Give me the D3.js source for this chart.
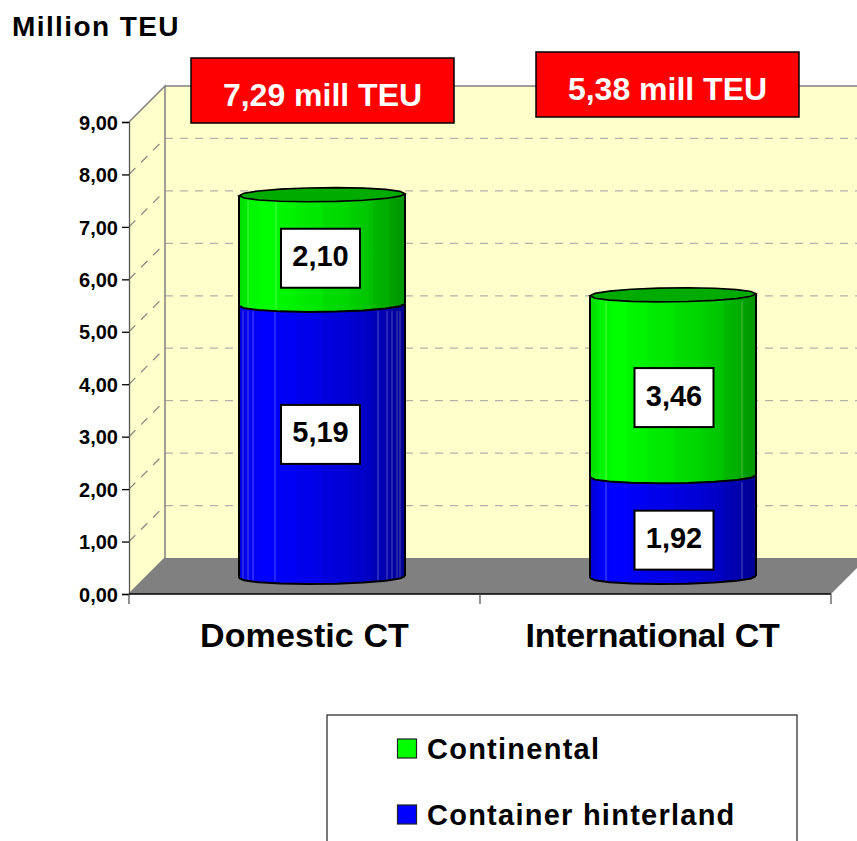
<!DOCTYPE html>
<html>
	<head>
		<meta charset="UTF-8">
		<title>Million TEU</title>
		<style>
			body{margin:0;background:#fff;}
			text{font-family:"Liberation Sans",Arial,sans-serif;font-weight:bold;fill:#000;}
		</style>
	</head>
	<body>
		<script src="https://cdn.jsdelivr.net/npm/d3@7"></script>
		<script>
			var categories = ["Domestic CT","International CT"];
			var seriesNames = ["Container hinterland","Continental"];
			var hinterland = [5.19,1.92];
			var continental = [2.10,3.46];
			var totals = ["7,29 mill TEU","5,38 mill TEU"];
			var yTicks = [0,1,2,3,4,5,6,7,8,9];
			var comma = function(v){return v.toFixed(2).replace(".",",");};

			var width = 857,height = 841;
			var svg = d3.select("body").append("svg")
						.attr("width",width)
						.attr("height",height)
						.style("display","block");
			var defs = svg.append("defs");

			var depth = 36;
			var x = d3.scaleBand().domain(categories).range([129,831]);
			var y = d3.scaleLinear().domain([0,9]).range([594,122]);
			var x0 = x.range()[0];
			var x1 = x.range()[1];

			//faceted shading, same steps for both colours
			var shade = [[0,.86],[.05,.92],[.06,.96],[.12,.98],[.13,1],[.22,1],[.23,.97],[.34,.95],[.35,.93],[.5,.9],[.51,.87],[.66,.84],[.67,.82],[.8,.76],[.81,.72],[.9,.68],[.91,.64],[1,.58]];
			function gradient(id,rgb){
				var g = defs.append("linearGradient").attr("id",id);
				shade.forEach(function(s){
					g.append("stop")
						.attr("offset",s[0])
						.attr("stop-color",d3.rgb(rgb[0]*s[1],rgb[1]*s[1],rgb[2]*s[1]));
				});
			}
			gradient("gBlue",[0,0,255]);
			gradient("gGreen",[0,255,0]);

			//walls and floor
			svg.append("polygon")
				.attr("points",[[x0,y(9)],[x0+depth,y(9)-depth],[x0+depth,y(0)-depth],[x0,y(0)]].join(" "))
				.attr("fill","#ffffcc");
			svg.append("rect")
				.attr("x",x0+depth).attr("y",y(9)-depth)
				.attr("width",width).attr("height",y(0)-y(9))
				.attr("fill","#ffffcc");
			svg.append("polygon")
				.attr("points",[[x0,y(0)],[x0+depth,y(0)-depth],[x1+depth,y(0)-depth],[x1,y(0)]].join(" "))
				.attr("fill","#808080");

			//gridlines
			var grid = svg.append("g")
						.attr("fill","none")
						.attr("stroke","#b2b2a8")
						.attr("stroke-width",1.3)
						.attr("stroke-dasharray","8 7");
			yTicks.slice(1,9).forEach(function(t){
				grid.append("line")
					.attr("x1",x0+depth).attr("x2",width)
					.attr("y1",y(t)-depth).attr("y2",y(t)-depth);
			});
			yTicks.slice(1,9).forEach(function(t){
				grid.append("line")
					.attr("x1",x0).attr("x2",x0+depth)
					.attr("y1",y(t)).attr("y2",y(t)-depth)
					.attr("stroke","#8c8c84")
					.attr("stroke-dasharray","9 8");
			});
			svg.append("path")
				.attr("d","M"+x0+","+y(9)+"L"+(x0+depth)+","+(y(9)-depth)+"V"+(y(0)-depth)+"L"+x0+","+y(0)+"M"+(x0+depth)+","+(y(9)-depth)+"H"+width)
				.attr("fill","none")
				.attr("stroke","#808080")
				.attr("stroke-width",1.5);

			//cylinders
			var cylW = 166,ry = 7,lift = 17;
			var ringLine = d3.line();
			//coarse polygon ring, tilted a bit up to the right like the original
			function ring(cx,cy,from,to,n){
				var pts = [];
				for(var i=0;i<=n;i++){
					var a = from+(to-from)*i/n;
					var px = cx+Math.cos(a)*cylW/2;
					pts.push([px,cy+Math.sin(a)*ry-(px-cx)*0.012]);
				}
				return pts;
			}
			function segment(cx,v0,v1,fill,seams){
				var yb = y(v0)-lift,yt = y(v1)-lift;
				svg.append("path")
					.attr("d",ringLine(ring(cx,yt,Math.PI,2*Math.PI,9).concat(ring(cx,yb,0,Math.PI,9)))+"Z")
					.attr("fill","url(#"+fill+")")
					.attr("stroke","none");
				//pale facet seams
				seams.forEach(function(l){
					svg.append("line")
						.attr("x1",cx+l).attr("x2",cx+l)
						.attr("y1",yt+6).attr("y2",yb+4)
						.attr("stroke","#fff")
						.attr("stroke-opacity",.3);
				});
				svg.append("path")
					.attr("d",ringLine(ring(cx,yb,0,Math.PI,9)))
					.attr("fill","none")
					.attr("stroke","#000")
					.attr("stroke-width",2);
				svg.append("path")
					.attr("d","M"+(cx-cylW/2)+","+(yb+1)+"V"+(yt+1)+"M"+(cx+cylW/2)+","+(yb-1)+"V"+(yt-1))
					.attr("stroke","#000")
					.attr("stroke-width",2);
			}
			var cylCenters = categories.map(function(c){return x(c)+x.bandwidth()/2+17.5;});
			var blueSeams = [[-79,-74,-69,-47,56,65,70,75,78],[-67,69]];
			var greenSeams = [[-74,-46],[-67,69]];
			categories.forEach(function(c,i){
				var cx = cylCenters[i];
				segment(cx,0,hinterland[i],"gBlue",blueSeams[i]);
				segment(cx,hinterland[i],hinterland[i]+continental[i],"gGreen",greenSeams[i]);
				//top cap
				var yt = y(hinterland[i]+continental[i])-lift;
				svg.append("path")
					.attr("d",ringLine(ring(cx,yt,0,2*Math.PI,18))+"Z")
					.attr("fill","#00ab00")
					.attr("stroke","#000")
					.attr("stroke-width",1.6);
			});

			//data labels, moved by hand in the original so offset from segment middle
			var labelShift = [[[-1.5,-6.5],[-1.5,8.5]],[[1,13.5],[1,12]]];
			function dataLabel(i,s,v0,v){
				var cx = cylCenters[i]+labelShift[i][s][0];
				var cy = (y(v0)+y(v0+v))/2-lift+labelShift[i][s][1];
				svg.append("rect")
					.attr("x",cx-39.5).attr("y",cy-29.5)
					.attr("width",79).attr("height",59)
					.attr("fill","#fff")
					.attr("stroke","#000")
					.attr("stroke-width",2);
				svg.append("text")
					.attr("x",cx).attr("y",cy+8)
					.attr("text-anchor","middle")
					.style("font-size","29px")
					.text(comma(v));
			}
			categories.forEach(function(c,i){
				dataLabel(i,0,0,hinterland[i]);
				dataLabel(i,1,hinterland[i],continental[i]);
			});

			//axes
			var yAxis = d3.axisLeft(y).tickValues(yTicks).tickSize(7).tickPadding(4).tickFormat(comma);
			var gy = svg.append("g").attr("transform","translate("+x0+",0)").call(yAxis);
			gy.selectAll("text").style("font-size","20px").attr("dy","0.36em");
			gy.selectAll("line,path").attr("stroke","#000").attr("stroke-width",1.3);
			gy.select("path").attr("stroke","#555");

			var gx = svg.append("g").attr("transform","translate(0,"+y(0)+")");
			gx.append("line").attr("x1",x0).attr("x2",x1).attr("stroke","#000").attr("stroke-width",1.5);
			[x0,x0+x.step(),x1].forEach(function(t){
				gx.append("line").attr("x1",t).attr("x2",t).attr("y1",0).attr("y2",10).attr("stroke","#555").attr("stroke-width",1.3);
			});
			gx.selectAll("text.cat")
				.data(categories)
				.enter()
				.append("text")
				.attr("class","cat")
				.attr("x",function(d){return x(d)+x.bandwidth()/2-(d===categories[1]?3:0);})
				.attr("y",53)
				.attr("text-anchor","middle")
				.style("font-size","34px")
				.style("letter-spacing",function(d){return d===categories[1]?"-0.3px":"0.1px";})
				.text(function(d){return d;});

			//axis title
			svg.append("text")
				.attr("x",12).attr("y",36)
				.style("font-size","28px")
				.style("letter-spacing","1.4px")
				.text("Million TEU");

			//red total boxes
			var boxX = [191,536],boxY = [58,52];
			totals.forEach(function(t,i){
				svg.append("rect")
					.attr("x",boxX[i]).attr("y",boxY[i])
					.attr("width",263).attr("height",65)
					.attr("fill","#ff0000")
					.attr("stroke","#000")
					.attr("stroke-width",1.5);
				svg.append("text")
					.attr("x",boxX[i]+131.5).attr("y",boxY[i]+48)
					.attr("text-anchor","middle")
					.style("font-size","32px")
					.style("fill","#fff")
					.text(t);
			});

			//legend, runs off the bottom of the page
			svg.append("rect")
				.attr("x",327).attr("y",715)
				.attr("width",470).attr("height",200)
				.attr("fill","#fff")
				.attr("stroke","#222")
				.attr("stroke-width",1.2);
			var legend = [{name:seriesNames[1],fill:"#00ff00",y:749},{name:seriesNames[0],fill:"#0000ff",y:815}];
			legend.forEach(function(d){
				svg.append("rect")
					.attr("x",397.5).attr("y",d.y-10)
					.attr("width",19).attr("height",19)
					.attr("fill",d.fill)
					.attr("stroke","#222")
					.attr("stroke-width",1.2);
				svg.append("text")
					.attr("x",427).attr("y",d.y+10)
					.style("font-size","29px")
					.style("letter-spacing","1.25px")
					.text(d.name);
			});
		</script>
	</body>
</html>
